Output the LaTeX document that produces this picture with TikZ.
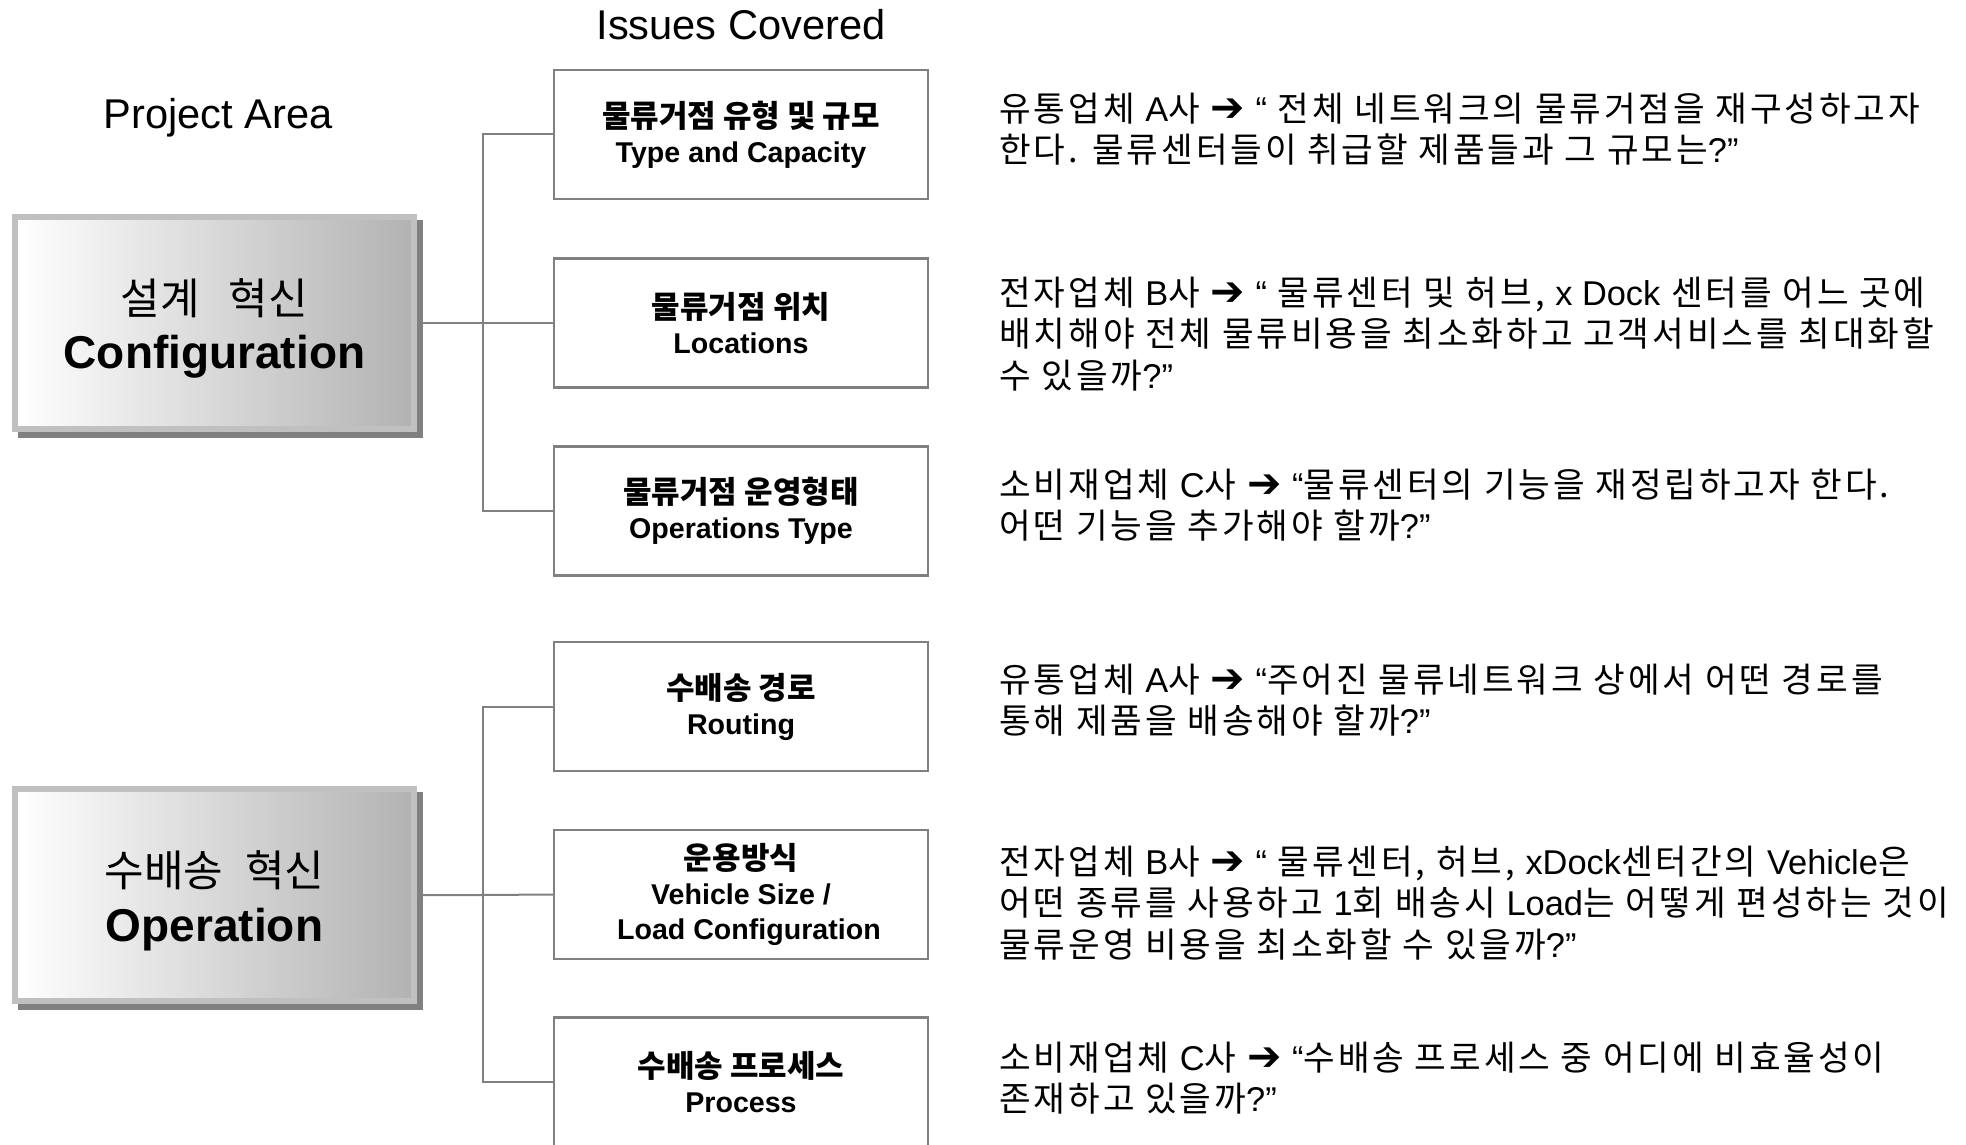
\documentclass[tikz,border=0pt]{standalone}
\usepackage{fontspec}
\setmainfont{Liberation Sans}
\newfontfamily\kr{Noto Sans CJK KR}
\newfontfamily\krwide[LetterSpace=8.5]{Noto Sans CJK KR}
\newfontfamily\arrowfont{DejaVu Sans}
\definecolor{linegray}{HTML}{808080}
\definecolor{framegray}{HTML}{C0C0C0}
\definecolor{shadegray}{HTML}{B2B2B2}
\definecolor{shadowgray}{HTML}{808080}
\newcommand{\goarrow}{{\arrowfont\fontsize{20.5}{20}\selectfont ➔}}
\newcommand{\lat}[1]{{\rmfamily #1}}
\begin{document}
\begin{tikzpicture}[x=0.5pt,y=-0.5pt,
  areabox/.style={minimum width=199.5pt, minimum height=106pt, inner sep=0pt,
    left color=white, right color=shadegray,
    draw=framegray, line width=3pt},
  areashadow/.style={minimum width=199.5pt, minimum height=106pt, inner sep=0pt,
    fill=shadowgray, draw=shadowgray, line width=3pt},
  areatext/.style={inner sep=0pt, align=center},
  issue/.style={draw=linegray, line width=1.25pt, fill=white,
    minimum width=187pt, minimum height=64.5pt, inner sep=0pt, align=center,
    font=\fontsize{14.3}{17.5}\selectfont},
  conn/.style={draw=linegray, line width=1pt},
  heading/.style={font=\fontsize{20.8}{24}\selectfont, inner sep=0pt},
  para/.style={anchor=west, align=left, inner sep=0pt,
    font=\krwide\fontsize{17.2}{20.6}\selectfont}]
\useasboundingbox (0,0) rectangle (1966,1145);
\fill[white] (0,0) rectangle (1966,1145);

% column headings
\node[heading] (hissues) at (741,25) {Issues Covered};
\node[heading] (harea) at (218,118) {Project Area};

% project areas
\node[areashadow] (s1) at (220.5,329) {};
\node[areabox] (c1) at (214.5,323) {};
\node[areatext] (t1) at (214.5,328.5)
  {{\kr\fontsize{21.5}{28}\selectfont 설계\hspace{0.67em}혁신}\\[8pt]
   {\fontsize{23}{28}\selectfont\bfseries Configuration}};
\node[areashadow] (s2) at (220.5,901) {};
\node[areabox] (c2) at (214.5,895) {};
\node[areatext] (t2) at (214.5,900.5)
  {{\kr\fontsize{21.5}{28}\selectfont 수배송\hspace{0.5em}혁신}\\[8pt]
   {\fontsize{23}{28}\selectfont\bfseries Operation}};

% issues
\node[issue] (i1) at (741,134.5) {{\kr\bfseries\fontsize{15.5}{17.5}\selectfont 물류거점 유형 및 규모}\\{\bfseries Type and Capacity}};
\node[issue] (i2) at (741,323) {{\kr\bfseries\fontsize{15.5}{17.5}\selectfont 물류거점 위치}\\{\bfseries Locations}};
\node[issue] (i3) at (741,511) {{\kr\bfseries\fontsize{15.5}{17.5}\selectfont 물류거점 운영형태}\\{\bfseries Operations Type}};
\node[issue] (i4) at (741,706.5) {{\kr\bfseries\fontsize{15.5}{17.5}\selectfont 수배송 경로}\\{\bfseries Routing}};
\node[issue] (i5) at (741,894.5) {{\kr\bfseries\fontsize{15.5}{17.5}\selectfont 운용방식}\\{\bfseries Vehicle Size /}\\{\bfseries\ \ Load Configuration}};
\node[issue] (i6) at (741,1082) {{\kr\bfseries\fontsize{15.5}{17.5}\selectfont 수배송 프로세스}\\{\bfseries Process}};

% tree connectors
\coordinate (j1) at (483,323);
\coordinate (j2) at (483,895);
\draw[conn] ([xshift=1.5pt]c1.east) -- (j1) -- (i2.west);
\draw[conn] (i1.west) -| (j1) |- (i3.west);
\draw[conn] ([xshift=1.5pt]c2.east) -- (j2) -- (i5.west);
\draw[conn] (i4.west) -| (j2) |- (i6.west);

% example questions
\node[para] (q1) at (999,129) {유통업체 \lat{A}사 \goarrow{} \lat{“} 전체 네트워크의 물류거점을 재구성하고자\\한다. 물류센터들이 취급할 제품들과 그 규모는\lat{?”}};
\node[para] (q2) at (999,334) {전자업체 \lat{B}사 \goarrow{} \lat{“} 물류센터 및 허브, \lat{x Dock} 센터를 어느 곳에\\배치해야 전체 물류비용을 최소화하고 고객서비스를 최대화할\\수 있을까\lat{?”}};
\node[para] (q3) at (999,505) {소비재업체 \lat{C}사 \goarrow{} \lat{“}물류센터의 기능을 재정립하고자 한다.\\어떤 기능을 추가해야 할까\lat{?”}};
\node[para] (q4) at (999,700) {유통업체 \lat{A}사 \goarrow{} \lat{“}주어진 물류네트워크 상에서 어떤 경로를\\통해 제품을 배송해야 할까\lat{?”}};
\node[para] (q5) at (999,903) {전자업체 \lat{B}사 \goarrow{} \lat{“} 물류센터, 허브, \lat{xDock}센터간의 \lat{Vehicle}은\\어떤 종류를 사용하고 \lat{1}회 배송시 \lat{Load}는 어떻게 편성하는 것이\\물류운영 비용을 최소화할 수 있을까\lat{?”}};
\node[para] (q6) at (999,1078) {소비재업체 \lat{C}사 \goarrow{} \lat{“}수배송 프로세스 중 어디에 비효율성이\\존재하고 있을까\lat{?”}};
\end{tikzpicture}
\end{document}
